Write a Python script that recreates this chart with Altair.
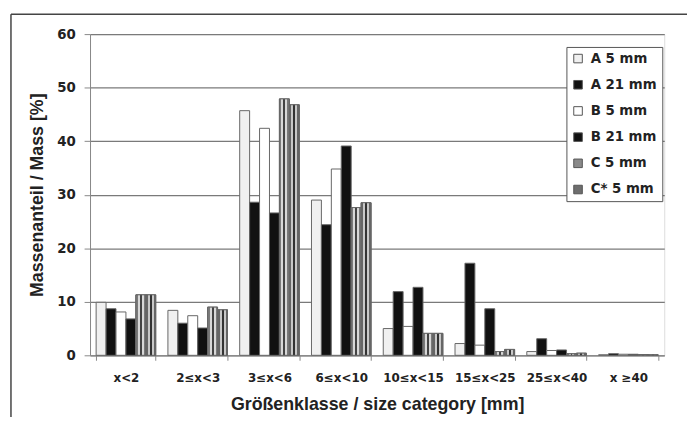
import altair as alt
import pandas as pd

categories = ["x<2", "2≤x<3", "3≤x<6", "6≤x<10", "10≤x<15", "15≤x<25", "25≤x<40", "x ≥40"]
series = ["A 5 mm", "A 21 mm", "B 5 mm", "B 21 mm", "C 5 mm", "C* 5 mm"]

a5 = [9.9, 8.4, 45.7, 29.0, 5.0, 2.2, 0.7, 0.1]
a21 = [8.7, 6.0, 28.6, 24.4, 11.9, 17.2, 3.1, 0.3]
b5 = [8.1, 7.4, 42.4, 34.8, 5.4, 1.9, 0.9, 0.2]
b21 = [6.8, 5.1, 26.6, 39.1, 12.7, 8.7, 1.0, 0.2]
c5 = [11.3, 9.0, 47.9, 27.6, 4.1, 0.7, 0.3, 0.15]
cs5 = [11.3, 8.5, 46.8, 28.5, 4.1, 1.1, 0.4, 0.1]

fills = ["#f0f0f0", "#111111", "#ffffff", "#111111", "#8a8a8a", "#6e6e6e"]

rows = []
for s, vals in zip(series, [a5, a21, b5, b21, c5, cs5]):
    for c, v in zip(categories, vals):
        rows.append({"cat": c, "series": s, "value": v})
df = pd.DataFrame(rows)

FONT = "DejaVu Sans"
TFONT = "Liberation Sans"

x_enc = alt.X(
    "cat:N", sort=categories,
    scale=alt.Scale(paddingInner=0.17, paddingOuter=0.085),
    axis=alt.Axis(
        title="Größenklasse / size category [mm]", labelAngle=0, tickBand="extent",
        tickSize=5, labelPadding=12, titlePadding=13,
        labelFont=FONT, labelFontSize=12, labelFontWeight="bold", labelColor="#222",
        titleFont=TFONT, titleFontSize=18, titleFontWeight="bold", titleColor="#222",
        domainColor="#888", tickColor="#888",
    ),
)
y_enc = alt.Y(
    "value:Q",
    scale=alt.Scale(domain=[0, 60], nice=False),
    axis=alt.Axis(
        title="Massenanteil / Mass [%]", values=[0, 10, 20, 30, 40, 50, 60],
        tickSize=6, labelPadding=9, titlePadding=10,
        labelFont=FONT, labelFontSize=13.5, labelFontWeight="bold", labelColor="#222",
        titleFont=TFONT, titleFontSize=18, titleFontWeight="bold", titleColor="#222",
        grid=True, gridColor="#7a7a7a", gridWidth=1.2,
        domainColor="#888", tickColor="#888",
    ),
)
xo_enc = alt.XOffset("series:N", sort=series)

bars = alt.Chart(df).mark_bar(stroke="#666", strokeWidth=1).encode(
    x=x_enc, y=y_enc, xOffset=xo_enc,
    color=alt.Color("series:N", sort=series,
                    scale=alt.Scale(domain=series, range=fills),
                    legend=alt.Legend(title=None, orient="none", legendX=482, legendY=13,
                                      symbolType="square", symbolSize=75,
                                      symbolStrokeColor="#555", symbolStrokeWidth=1,
                                      labelFont=FONT, labelFontSize=13.5, labelFontWeight="bold",
                                      labelColor="#222", labelOffset=6,
                                      padding=5, rowPadding=11.5,
                                      fillColor="white", strokeColor="#555")),
)

def stripes(dark, mid, light):
    offs = [(0.0, 0.2, mid), (0.2, 0.4, light), (0.4, 0.6, dark), (0.6, 0.8, light), (0.8, 1.0, mid)]
    stops = []
    for a, b, col in offs:
        stops.append(alt.GradientStop(offset=a, color=col))
        stops.append(alt.GradientStop(offset=b, color=col))
    return alt.LinearGradient(gradient="linear", stops=stops, x1=0, x2=1, y1=0, y2=0)

hatch_c5 = alt.Chart(df).transform_filter(alt.datum.series == "C 5 mm").mark_bar(
    fill=stripes("#444", "#7a7a7a", "#d8d8d8"), stroke="#666", strokeWidth=1
).encode(x=x_enc, y=y_enc, xOffset=xo_enc)

hatch_cs5 = alt.Chart(df).transform_filter(alt.datum.series == "C* 5 mm").mark_bar(
    fill=stripes("#333", "#666", "#c8c8c8"), stroke="#666", strokeWidth=1
).encode(x=x_enc, y=y_enc, xOffset=xo_enc)

frame_src = pd.DataFrame({"f": [0]})
frame_left = alt.Chart(frame_src).mark_rule(stroke="#444", strokeWidth=1.5).encode(
    x=alt.value(-80), y=alt.value(-20), y2=alt.value(600))
frame_top = alt.Chart(frame_src).mark_rule(stroke="#444", strokeWidth=1.5).encode(
    y=alt.value(-20), x=alt.value(-80), x2=alt.value(800))

chart = alt.layer(frame_left, frame_top, bars, hatch_c5, hatch_cs5).properties(
    width=581, height=325,
    autosize=alt.AutoSizeParams(type="none"),
    padding={"left": 83, "top": 24, "right": 23, "bottom": 60},
).configure_view(stroke="#888", strokeWidth=1).configure(background="white")

chart.save("out.html", embed_options={"renderer": "svg", "actions": False})
